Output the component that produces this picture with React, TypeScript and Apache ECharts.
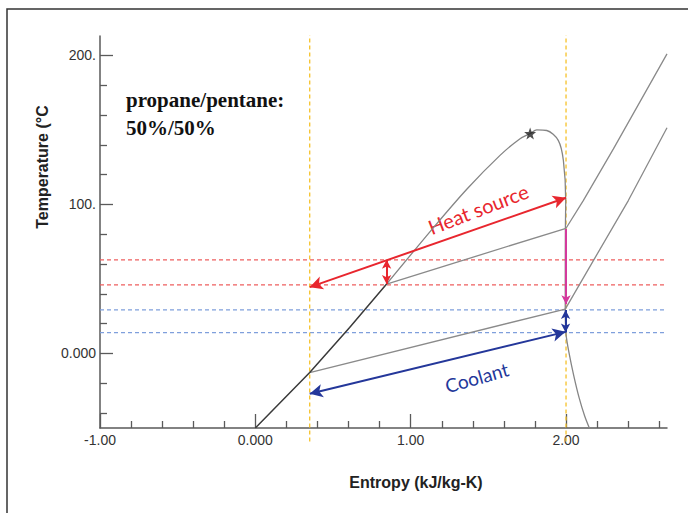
import React, { useEffect, useRef } from "react";
import * as echarts from "echarts";

// ---- axis ticks / labels ----
const xMajorTicks = [-1, 0, 1, 2];
const xMajorLabels = ["-1.00", "0.000", "1.00", "2.00"];
const xMinorTicks = [-0.8, -0.6, -0.4, -0.2, 0.2, 0.4, 0.6, 0.8, 1.2, 1.4, 1.6, 1.8, 2.2, 2.4, 2.6];
const yMajorTicks = [0, 100, 200];
const yMajorLabels = ["0.000", "100.", "200."];
const yMinorTicks = [-40, -20, 20, 40, 60, 80, 120, 140, 160, 180];

// ---- curves (entropy kJ/kg-K, temperature °C) ----
const liquidLine = [[0, -50], [0.35, -12.8], [0.607, 17.5], [0.845, 46.6]];
const domeUpper = [
  [0.845, 46.6], [1.148, 84.6], [1.364, 110.5], [1.575, 132.9], [1.704, 144.1],
  [1.769, 147.6], [1.812, 150], [1.876, 149.6], [1.95, 143], [1.983, 129.5],
  [1.998, 102.5], [1.996, 84], [1.995, 50], [1.995, 29.8], [2.0, 13],
  [2.02, 0], [2.05, -15], [2.085, -30], [2.12, -42], [2.15, -50],
];
const highTwoPhase = [[0.845, 46.6], [2.0, 84]];
const lowTwoPhase = [[0.35, -12.8], [1.995, 29.8]];
const highSuperheat = [[2.0, 84], [2.111, 102.6], [2.305, 137.3], [2.65, 201]];
const lowSuperheat = [[1.995, 29.8], [2.176, 62.3], [2.401, 102.6], [2.65, 151.4]];
const criticalPoint = [[1.769, 147.6]];

// ---- reference levels ----
const heatSourceLevels = [62.8, 46];
const coolantLevels = [29.2, 14];
const pinchEntropies = [0.35, 2.0];

// ---- arrows ----
const heatSourceArrow = [[0.35, 44.5], [2.0, 104.5]];
const heatSourceDelta = [[0.845, 46.6], [0.845, 62.8]];
const coolantArrow = [[0.35, -27], [1.997, 14.5]];
const coolantDelta = [[1.997, 14], [1.997, 29.2]];
const condenserArrow = [[2.0, 83.5], [2.0, 33]];

const X_MIN = -1, X_MAX = 2.65, Y_MIN = -50, Y_MAX = 213;
const heatSourceLabelAt = [1.435, 97];
const coolantLabelAt = [1.425, -16];

const STAR = "path://M12,0 L14.9,8.1 L23.4,8.2 L16.6,13.4 L19.1,21.6 L12,16.7 L4.9,21.6 L7.4,13.4 L0.6,8.2 L9.1,8.1 Z";

function fmt(ticks: number[], labels: string[]) {
  return (v: number) => {
    const i = ticks.findIndex((t) => Math.abs(t - v) < 1e-9);
    return i >= 0 ? labels[i] : "";
  };
}

export default function App() {
  const ref = useRef<HTMLDivElement>(null);
  useEffect(() => {
    if (!ref.current) return;
    const chart = echarts.init(ref.current, undefined, { renderer: "svg" });
    const axisColor = "#5a5a5a";
    const labelFont = { fontFamily: "Liberation Sans", fontSize: 14, color: "#333" };
    const hLine = (lvl: number, color: string) => ({
      type: "line",
      data: [[X_MIN, lvl], [X_MAX, lvl]],
      symbol: "none",
      silent: true,
      lineStyle: { color, width: 1.2, type: [4, 3] },
      z: 1,
    });
    const vLine = (x: number) => ({
      type: "line",
      data: [[x, -59], [x, Y_MAX + 0.5]],
      symbol: "none",
      silent: true,
      clip: false,
      lineStyle: { color: "#f6c22a", width: 1.3, type: [4, 3] },
      z: 1,
    });
    const curve = (data: number[][], color: string, width = 1.3, smooth: any = false) => ({
      type: "line",
      data,
      symbol: "none",
      silent: true,
      smooth,
      lineStyle: { color, width },
      z: 3,
    });
    const arrowSeries = (color: string, lines: any[], z = 5) => ({
      type: "line",
      data: [],
      z,
      markLine: {
        silent: true,
        animation: false,
        label: { show: false },
        emphasis: { disabled: true },
        lineStyle: { color, width: 2, type: "solid" },
        data: lines,
      },
    });
    const both = (seg: number[][], size: number[]) => [
      { coord: seg[0], symbol: "arrow", symbolSize: size },
      { coord: seg[1], symbol: "arrow", symbolSize: size },
    ];
    const single = (seg: number[][], size: number[]) => [
      { coord: seg[0], symbol: "none" },
      { coord: seg[1], symbol: "arrow", symbolSize: size },
    ];

    const option: any = {
      animation: false,
      grid: { left: 100, top: 36, right: 21, bottom: 85 },
      xAxis: [
        {
          type: "value", min: X_MIN, max: X_MAX, position: "bottom",
          axisLine: { onZero: false, lineStyle: { color: axisColor, width: 1.5 } },
          axisTick: { inside: true, length: 14, customValues: xMajorTicks, lineStyle: { color: axisColor, width: 1.3 } },
          axisLabel: { ...labelFont, margin: 5, customValues: xMajorTicks, formatter: fmt(xMajorTicks, xMajorLabels) },
          splitLine: { show: false },
        },
        {
          type: "value", min: X_MIN, max: X_MAX, position: "bottom",
          axisLine: { show: false, onZero: false },
          axisTick: { inside: true, length: 7, customValues: xMinorTicks, lineStyle: { color: axisColor, width: 1.3 } },
          axisLabel: { show: false },
          splitLine: { show: false },
        },
      ],
      yAxis: [
        {
          type: "value", min: Y_MIN, max: Y_MAX, position: "left",
          axisLine: { show: true, onZero: false, lineStyle: { color: axisColor, width: 1.5 } },
          axisTick: { show: true, inside: true, length: 13, customValues: yMajorTicks, lineStyle: { color: axisColor, width: 1.3 } },
          axisLabel: { ...labelFont, margin: 4, customValues: yMajorTicks, formatter: fmt(yMajorTicks, yMajorLabels) },
          splitLine: { show: false },
        },
        {
          type: "value", min: Y_MIN, max: Y_MAX, position: "left",
          axisLine: { show: false, onZero: false },
          axisTick: { show: true, inside: true, length: 7, customValues: yMinorTicks, lineStyle: { color: axisColor, width: 1.3 } },
          axisLabel: { show: false },
          splitLine: { show: false },
        },
      ],
      series: [
        hLine(heatSourceLevels[0], "#ee5f5f"),
        hLine(heatSourceLevels[1], "#ee5f5f"),
        hLine(coolantLevels[0], "#7f9fdc"),
        hLine(coolantLevels[1], "#7f9fdc"),
        vLine(pinchEntropies[0]),
        vLine(pinchEntropies[1]),
        curve(domeUpper, "#858585", 1.3, 0.3),
        curve(highTwoPhase, "#8a8a8a"),
        curve(lowTwoPhase, "#8a8a8a"),
        curve(highSuperheat, "#8a8a8a"),
        curve(lowSuperheat, "#8a8a8a"),
        curve(liquidLine, "#3a3a3a", 1.5),
        {
          type: "scatter",
          data: criticalPoint,
          symbol: STAR,
          symbolSize: 12,
          silent: true,
          itemStyle: { color: "#222" },
          z: 6,
        },
        arrowSeries("#e8262e", [both(heatSourceArrow, [10, 13]), both(heatSourceDelta, [7, 9])]),
        arrowSeries("#24379a", [both(coolantArrow, [10, 13]), both(coolantDelta, [7, 9])]),
        arrowSeries("#d43a9c", [single(condenserArrow, [7, 9])], 4),
      ],
    };
    chart.setOption(option);

    const hs = chart.convertToPixel({ gridIndex: 0 }, heatSourceLabelAt) as number[];
    const cl = chart.convertToPixel({ gridIndex: 0 }, coolantLabelAt) as number[];
    chart.setOption({
      graphic: [
        {
          type: "rect", silent: true,
          shape: { x: 7, y: 9, width: 740, height: 560 },
          style: { fill: "none", stroke: "#333", lineWidth: 1.5 },
        },
        {
          type: "text", x: 126, y: 100, silent: true,
          style: { text: "propane/pentane:", font: "bold 21px 'Liberation Serif'", fill: "#111", textAlign: "left", textVerticalAlign: "middle" },
        },
        {
          type: "text", x: 126, y: 128, silent: true,
          style: { text: "50%/50%", font: "bold 21px 'Liberation Serif'", fill: "#111", textAlign: "left", textVerticalAlign: "middle" },
        },
        {
          type: "text", x: 416, y: 482, silent: true,
          style: { text: "Entropy (kJ/kg-K)", font: "bold 16px 'Liberation Sans'", fill: "#222", textAlign: "center", textVerticalAlign: "middle" },
        },
        {
          type: "text", x: 42, y: 167, rotation: Math.PI / 2, silent: true,
          style: { text: "Temperature (°C", font: "bold 16px 'Liberation Sans'", fill: "#222", textAlign: "center", textVerticalAlign: "middle" },
        },
        {
          type: "text", x: hs[0], y: hs[1], rotation: (21 * Math.PI) / 180, silent: true,
          style: { text: "Heat source", font: "20px Lato", fill: "#e8262e", textAlign: "center", textVerticalAlign: "middle" },
        },
        {
          type: "text", x: cl[0], y: cl[1], rotation: (16 * Math.PI) / 180, silent: true,
          style: { text: "Coolant", font: "19px Lato", fill: "#24379a", textAlign: "center", textVerticalAlign: "middle" },
        },
      ],
    });
    return () => chart.dispose();
  }, []);
  return <div ref={ref} style={{ position: "fixed", left: 0, top: 0, width: 688, height: 513, background: "#fff" }} />;
}
